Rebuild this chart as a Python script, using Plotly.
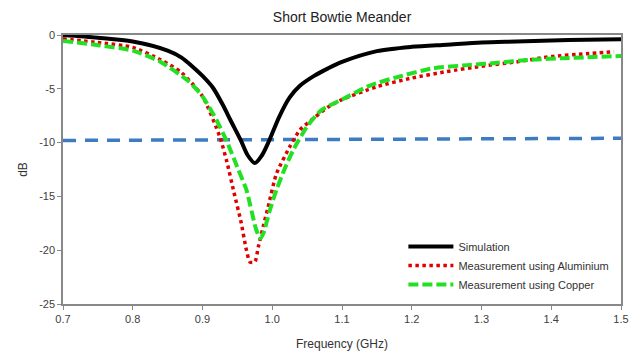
import plotly.graph_objects as go

# Data
sim_f = [0.70, 0.75, 0.80, 0.85, 0.87, 0.885, 0.90, 0.915, 0.93, 0.94, 0.955, 0.965, 0.975,
         0.985, 0.995, 1.01, 1.025, 1.04, 1.06, 1.08, 1.10, 1.15, 1.20, 1.25, 1.30, 1.35,
         1.40, 1.45, 1.50]
sim_db = [0.0, -0.25, -0.6, -1.45, -2.1, -2.9, -3.8, -4.9, -6.6, -7.9, -9.8, -11.2, -11.9,
          -11.2, -9.9, -7.6, -5.8, -4.7, -3.8, -3.1, -2.5, -1.5, -1.1, -0.9, -0.7, -0.6,
          -0.5, -0.45, -0.4]

alu_f = [0.70, 0.75, 0.80, 0.84, 0.87, 0.90, 0.925, 0.935, 0.945, 0.955, 0.963, 0.968,
         0.975, 0.98, 0.987, 0.994, 1.006, 1.025, 1.04, 1.06, 1.08, 1.10, 1.15, 1.20,
         1.25, 1.30, 1.35, 1.40, 1.45, 1.49]
alu_db = [-0.35, -0.7, -1.15, -2.3, -3.5, -5.7, -9.5, -11.8, -14.6, -17.3, -20.0, -21.1,
          -21.1, -19.7, -17.8, -16.0, -12.9, -10.4, -8.8, -7.7, -6.7, -6.0, -4.8, -4.0,
          -3.4, -2.9, -2.5, -2.0, -1.75, -1.55]

cu_f = [0.70, 0.75, 0.80, 0.84, 0.88, 0.90, 0.92, 0.935, 0.95, 0.963, 0.977, 0.983,
        0.988, 0.996, 1.006, 1.018, 1.03, 1.05, 1.07, 1.10, 1.14, 1.18, 1.23, 1.28,
        1.32, 1.37, 1.42, 1.50]
cu_db = [-0.55, -0.95, -1.45, -2.5, -4.3, -5.7, -7.9, -9.9, -12.3, -14.4, -18.1, -18.9,
         -18.3, -16.4, -14.4, -12.4, -10.7, -8.5, -7.0, -6.0, -4.7, -3.9, -3.1, -2.8,
         -2.6, -2.3, -2.15, -1.95]

ref_f = [0.70, 1.50]
ref_db = [-9.8, -9.6]

x_ticks = [0.7, 0.8, 0.9, 1.0, 1.1, 1.2, 1.3, 1.4, 1.5]
y_ticks = [0, -5, -10, -15, -20, -25]
y_tick_text = ["0", "-5", "-10", "-15", "-20", "-25"]

FONT = "Liberation Sans, Arial, sans-serif"

fig = go.Figure()
fig.add_trace(go.Scatter(x=ref_f, y=ref_db, mode="lines", showlegend=False,
                         line=dict(color="#3d7cc0", width=3.5, dash="13px,9px")))
fig.add_trace(go.Scatter(x=sim_f, y=sim_db, mode="lines", name="Simulation",
                         line=dict(color="black", width=4, shape="spline", smoothing=0.8)))
fig.add_trace(go.Scatter(x=alu_f, y=alu_db, mode="lines", name="Measurement using Aluminium",
                         line=dict(color="#e00000", width=3.5, dash="dot", shape="spline", smoothing=0.6)))
fig.add_trace(go.Scatter(x=cu_f, y=cu_db, mode="lines", name="Measurement using Copper",
                         line=dict(color="#22e022", width=4, dash="10px,4px", shape="spline", smoothing=0.6)))

fig.update_layout(
    width=637, height=351,
    margin=dict(l=63, r=16, t=35, b=47, autoexpand=False),
    paper_bgcolor="white", plot_bgcolor="white",
    font=dict(family=FONT, size=11, color="#404040"),
    title=dict(text="Short Bowtie Meander", x=0.537, xanchor="center", y=0.952, yanchor="middle",
               font=dict(family=FONT, size=14, color="#222222")),
    legend=dict(x=0.61, y=0.268, xanchor="left", yanchor="top", bgcolor="rgba(0,0,0,0)",
                font=dict(family=FONT, size=11, color="#333333"), itemwidth=45,
                tracegroupgap=0),
    xaxis=dict(range=[0.7, 1.5], tickvals=x_ticks, tickformat=".1f", ticks="outside", ticklen=4,
               tickcolor="#888888", showline=True, linecolor="#888888", linewidth=1.5, mirror=True,
               showgrid=False, zeroline=False, automargin=False,
               title=dict(text="Frequency (GHz)", font=dict(size=12, color="#333333"), standoff=17)),
    yaxis=dict(range=[-25, 0], tickvals=y_ticks, ticktext=y_tick_text, ticks="outside", ticklen=4,
               tickcolor="#888888", showline=True, linecolor="#888888", linewidth=1.5, mirror=True,
               showgrid=False, zeroline=False, automargin=False,
               title=dict(text="dB", font=dict(size=12, color="#333333"), standoff=9)),
)

fig.write_html("out.html")
